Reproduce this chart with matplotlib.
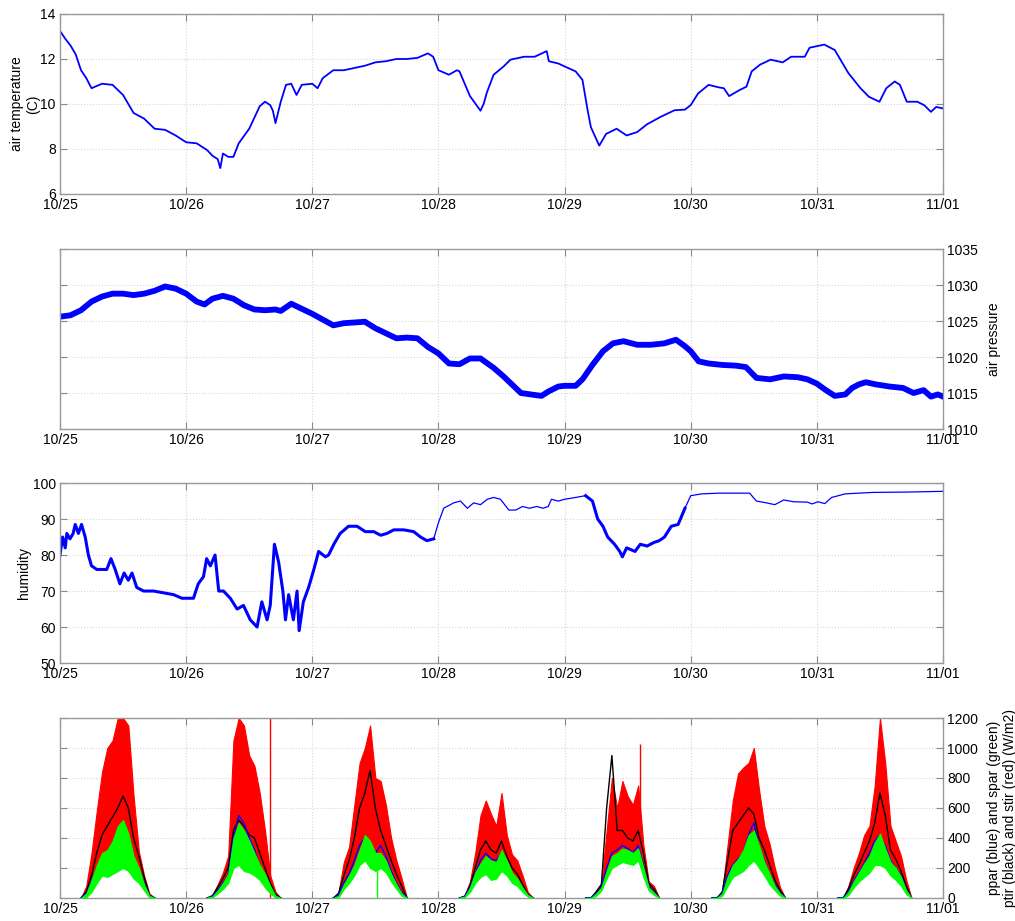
import numpy as np
import matplotlib
matplotlib.use("Agg")
import matplotlib.pyplot as plt

plt.rcParams["font.family"] = ["Liberation Sans", "DejaVu Sans"]

# ── Data (hours since 10/25 00:00) ───────────────────────────────────────────
DATE_LABELS = ["10/25", "10/26", "10/27", "10/28", "10/29", "10/30", "10/31", "11/01"]

TEMP_H = [0, 1, 2, 3, 4, 5, 6, 7, 8, 10, 12, 13, 14, 16, 18, 20, 22, 24, 26, 28, 29, 30,
          30.5, 31, 32, 33, 34, 36, 38, 39, 40, 40.5, 41, 42, 43, 44, 45, 46, 48, 49, 50,
          52, 54, 56, 58, 60, 62, 64, 66, 68, 70, 71, 72, 74, 75.5, 76, 78, 80, 80.6, 81.2,
          82.5, 84.4, 85.7, 88.3, 90.3, 92.6, 93, 94.8, 96, 98.1, 99.4, 100.4, 101, 102.3,
          102.6, 103.9, 105.9, 107.8, 109.8, 111.7, 114.3, 116.9, 118.9, 120, 121.4, 123.4,
          125.3, 126.3, 127.3, 129.3, 130.6, 131.6, 133.2, 135.2, 137.5, 139.1, 141.7,
          142.6, 144, 145.4, 147.4, 150, 152.3, 153.9, 155.9, 157.2, 158.8, 159.8, 161.1,
          163.1, 164.4, 165.7, 166.7, 168]
TEMP_C = [13.25, 12.9, 12.6, 12.2, 11.5, 11.15, 10.7, 10.8, 10.9, 10.85, 10.4, 10.0, 9.6,
          9.35, 8.9, 8.85, 8.6, 8.3, 8.25, 7.95, 7.7, 7.55, 7.15, 7.8, 7.65, 7.65, 8.25, 8.9,
          9.9, 10.1, 9.95, 9.7, 9.15, 10.1, 10.85, 10.9, 10.4, 10.85, 10.9, 10.7, 11.15,
          11.5, 11.5, 11.6, 11.7, 11.85, 11.9, 12.0, 12.0, 12.05, 12.25, 12.1, 11.5, 11.3,
          11.5, 11.45, 10.35, 9.7, 10.0, 10.5, 11.3, 11.67, 11.97, 12.1, 12.1, 12.35, 11.9,
          11.8, 11.67, 11.45, 11.07, 9.7, 8.97, 8.3, 8.15, 8.67, 8.9, 8.6, 8.75, 9.1, 9.43,
          9.72, 9.75, 9.95, 10.47, 10.85, 10.74, 10.7, 10.35, 10.62, 10.77, 11.45, 11.75,
          11.97, 11.85, 12.1, 12.1, 12.5, 12.57, 12.64, 12.4, 11.37, 10.7, 10.32, 10.1,
          10.7, 11.0, 10.85, 10.1, 10.1, 9.95, 9.65, 9.87, 9.8]

PRES_H = [0, 2, 4, 6, 8, 10, 12, 14, 16, 18, 20, 22, 24, 26, 27.5, 29, 31, 33, 35, 37, 39,
          41, 42, 44, 46, 48, 50, 52, 54, 56, 58, 60, 62, 64, 66, 68, 70, 72, 74, 76, 78,
          80, 82.5, 84.4, 86.4, 87.7, 89.6, 91.6, 92.9, 94.8, 96, 98.1, 99.4, 101.3, 103.3,
          105.2, 107.2, 109.8, 112.4, 115, 117.2, 118.9, 120, 121.5, 123.4, 126, 128.6,
          130.5, 132.5, 135.1, 137.7, 140.3, 142.2, 144, 145.5, 147.4, 149.4, 150.7, 152,
          153.3, 155.2, 157.8, 160.4, 162.4, 164.3, 165.7, 167, 168]
PRES_HPA = [1025.6, 1025.8, 1026.5, 1027.7, 1028.4, 1028.8, 1028.8, 1028.6, 1028.8, 1029.2,
            1029.8, 1029.5, 1028.8, 1027.7, 1027.3, 1028.1, 1028.5, 1028.1, 1027.2, 1026.6,
            1026.5, 1026.6, 1026.4, 1027.4, 1026.7, 1026.0, 1025.2, 1024.4, 1024.7, 1024.8,
            1024.9, 1024.0, 1023.3, 1022.6, 1022.7, 1022.6, 1021.4, 1020.5, 1019.1, 1019.0,
            1019.8, 1019.8, 1018.5, 1017.3, 1015.9, 1015.0, 1014.8, 1014.6, 1015.2, 1015.9,
            1016.0, 1016.0, 1016.9, 1018.9, 1020.8, 1021.9, 1022.2, 1021.7, 1021.7, 1021.9,
            1022.4, 1021.5, 1020.8, 1019.4, 1019.1, 1018.9, 1018.8, 1018.6, 1017.1, 1016.9,
            1017.3, 1017.2, 1016.9, 1016.3, 1015.5, 1014.6, 1014.8, 1015.7, 1016.2, 1016.5,
            1016.2, 1015.9, 1015.7, 1015.0, 1015.4, 1014.5, 1014.8, 1014.5]

HUM_H = [0, 0.5, 1, 1.3, 1.9, 2.5, 2.9, 3.5, 4.1, 4.8,
         5.4, 6.0, 7.0, 7.9, 8.9, 9.7, 10.5, 11.4, 12.2, 13,
         13.7, 14.6, 15.9, 17.8, 19.7, 21.6, 23.2, 24.1, 25.4, 26.3,
         27.3, 27.9, 28.6, 29.5, 30.2, 31.1, 32.4, 33.7, 34.9, 36.2,
         37.5, 38.4, 39.4, 40, 40.8, 41.6, 42.4, 42.9, 43.5, 44.4,
         45.1, 45.5, 46.3, 47.3, 48.3, 49.2, 50.5, 51.1, 52.1, 53.3,
         54.9, 56.5, 58.1, 59.7, 61, 62.2, 63.5, 65.4, 67.3, 68.6,
         69.8, 71.1, 72, 73, 74.9, 76.2, 77.5, 78.7, 80, 81.3,
         82.5, 83.8, 85.4, 86.7, 88, 89.3, 90.7, 91.9, 92.9, 93.5,
         94.8, 96, 98.1, 100, 101.3, 102.3, 103.3, 104.2, 105.5, 106.5,
         107, 107.8, 109.4, 110.4, 111.7, 113, 114, 115, 116.3, 117.6,
         118.9, 120, 122.1, 125.4, 131.2, 132.5, 134.4, 136, 137.7, 139.6,
         142.2, 143.1, 144.2, 145.5, 146.8, 149.4, 154.6, 161.1, 168]
HUM_PCT = [80, 85, 82, 86, 84.5, 86, 88.5, 86, 88.5, 85,
           80, 77, 76, 76, 76, 79, 76, 72, 75, 73,
           75, 71, 70, 70, 69.5, 69, 68, 68, 68, 72,
           74, 79, 77, 80, 70, 70, 68, 65, 66, 62,
           60, 67, 62, 66, 83, 78, 70, 62, 69, 62,
           70, 59, 67, 71, 76, 81, 79.5, 80, 83, 86,
           88, 88, 86.5, 86.5, 85.5, 86, 87, 87, 86.5, 85,
           84, 84.5, 89, 93, 94.5, 95, 93, 94.5, 94, 95.5,
           96, 95.5, 92.5, 92.5, 93.5, 93, 93.5, 93, 93.5, 95.5,
           95, 95.5, 96, 96.5, 95, 90, 88, 85, 83, 81,
           79.5, 82, 81, 83, 82.5, 83.5, 84, 85, 88, 88.5,
           93, 96.5, 97, 97.2, 97.2, 95, 94.5, 94, 95.3, 94.8,
           94.7, 94.2, 94.8, 94.3, 96, 97, 97.4, 97.5, 97.7]

# radiation: hourly envelopes per day, hours 4..18
RAD_HOURS = list(range(4, 19))
STIR_HI = [
    [0, 80, 300, 580, 840, 1000, 1050, 1200, 1200, 1150, 680, 310, 150, 30, 0],
    [0, 20, 90, 170, 280, 1050, 1200, 1150, 950, 880, 700, 450, 150, 40, 0],
    [0, 40, 240, 340, 620, 900, 1000, 1150, 800, 780, 620, 400, 250, 130, 0],
    [0, 20, 110, 300, 550, 650, 560, 480, 700, 420, 290, 250, 150, 40, 0],
    [0, 0, 50, 100, 450, 800, 600, 780, 680, 620, 750, 350, 110, 80, 0],
    [0, 0, 50, 350, 650, 830, 870, 900, 1000, 720, 480, 360, 200, 70, 0],
    [0, 0, 80, 200, 300, 420, 480, 750, 1200, 900, 480, 380, 280, 120, 0],
]
STIR_LO = [
    [0, 15, 70, 150, 220, 230, 260, 320, 350, 300, 200, 150, 70, 10, 0],
    [0, 8, 40, 80, 130, 300, 350, 300, 270, 220, 170, 110, 55, 10, 0],
    [0, 10, 75, 125, 185, 270, 330, 290, 240, 250, 210, 135, 75, 22, 0],
    [0, 8, 55, 135, 185, 220, 185, 185, 250, 200, 135, 105, 55, 15, 0],
    [0, 0, 22, 60, 155, 240, 260, 285, 275, 260, 290, 170, 60, 28, 0],
    [0, 0, 22, 110, 180, 210, 250, 320, 350, 275, 195, 125, 65, 22, 0],
    [0, 0, 30, 90, 140, 185, 225, 295, 325, 265, 195, 160, 110, 38, 0],
]
PTIR = [
    [0, 40, 150, 300, 420, 480, 540, 600, 680, 600, 400, 280, 140, 20, 0],
    [0, 15, 70, 130, 200, 450, 520, 480, 420, 400, 300, 200, 100, 25, 0],
    [0, 30, 150, 250, 400, 600, 700, 850, 600, 450, 350, 250, 160, 80, 0],
    [0, 10, 80, 200, 320, 380, 320, 300, 380, 280, 200, 160, 90, 25, 0],
    [0, 0, 40, 90, 600, 950, 450, 450, 400, 380, 450, 300, 100, 60, 0],
    [0, 0, 40, 250, 450, 500, 550, 600, 560, 400, 320, 220, 120, 50, 0],
    [0, 0, 60, 150, 220, 300, 380, 500, 700, 550, 320, 260, 180, 80, 0],
]
PPAR = [
    [0, 30, 110, 200, 260, 280, 330, 380, 500, 380, 250, 200, 100, 15, 0],
    [0, 10, 50, 100, 150, 400, 550, 500, 400, 320, 220, 150, 70, 15, 0],
    [0, 20, 100, 160, 250, 350, 400, 350, 300, 350, 280, 180, 100, 40, 0],
    [0, 10, 70, 160, 250, 300, 260, 250, 300, 230, 160, 120, 70, 20, 0],
    [0, 0, 30, 70, 200, 300, 320, 350, 330, 300, 350, 220, 80, 40, 0],
    [0, 0, 30, 150, 220, 260, 300, 420, 500, 350, 250, 160, 90, 35, 0],
    [0, 0, 40, 110, 170, 230, 300, 380, 420, 350, 250, 200, 150, 60, 0],
]
SPAR_HI = [
    [0, 30, 120, 220, 300, 320, 380, 480, 520, 430, 280, 200, 90, 15, 0],
    [0, 10, 50, 100, 160, 400, 500, 450, 380, 300, 220, 160, 80, 15, 0],
    [0, 15, 90, 150, 220, 320, 420, 380, 300, 300, 250, 160, 90, 30, 0],
    [0, 10, 70, 170, 230, 280, 250, 240, 320, 250, 170, 130, 70, 20, 0],
    [0, 0, 30, 70, 180, 280, 300, 330, 320, 300, 330, 200, 70, 35, 0],
    [0, 0, 30, 140, 220, 260, 320, 420, 450, 350, 240, 160, 80, 30, 0],
    [0, 0, 40, 110, 170, 230, 280, 370, 430, 330, 240, 200, 140, 50, 0],
]
SPAR_LO = [
    [0, 5, 40, 100, 150, 140, 160, 180, 200, 180, 130, 100, 50, 5, 0],
    [0, 5, 30, 60, 100, 200, 220, 180, 170, 150, 120, 70, 30, 5, 0],
    [0, 5, 60, 100, 150, 220, 250, 200, 180, 200, 170, 110, 60, 15, 0],
    [0, 5, 40, 100, 140, 160, 120, 130, 180, 150, 100, 80, 40, 10, 0],
    [0, 0, 15, 50, 130, 200, 220, 240, 230, 220, 250, 140, 50, 20, 0],
    [0, 0, 15, 80, 140, 160, 180, 220, 250, 200, 150, 90, 50, 15, 0],
    [0, 0, 20, 70, 110, 140, 170, 220, 220, 200, 150, 120, 80, 25, 0],
]
# isolated single-sample spikes (hours since 10/25, low, high)
SPIKE_H = [39.9, 110.4]
SPIKE_LO = [0, 420]
SPIKE_HI = [1200, 1030]
GREEN_SPIKE_H = [60.3]
GREEN_SPIKE_HI = [230]

GRID_KW = dict(color="#d6d6d6", linestyle=":", linewidth=0.8)


def style_axis(ax):
    ax.set_xlim(0, 7)
    ax.set_xticks(range(8))
    ax.set_xticklabels(DATE_LABELS)
    ax.grid(True, **GRID_KW)
    ax.tick_params(axis="both", direction="in", length=5, color="#888888",
                   top=True, right=True, labelsize=10, pad=3)
    for s in ax.spines.values():
        s.set_color("#999999")
        s.set_linewidth(1.0)


fig = plt.figure(figsize=(10.15, 9.21), dpi=100)
L, W, H = 0.0591, 0.870, 0.1954
ax1 = fig.add_axes([L, 0.7894, W, H])
ax2 = fig.add_axes([L, 0.5342, W, H])
ax3 = fig.add_axes([L, 0.2801, W, H])
ax4 = fig.add_axes([L, 0.0250, W, H])

days = lambda h: np.asarray(h, dtype=float) / 24.0

# ── air temperature ──────────────────────────────────────────────────────────
ax1.plot(days(TEMP_H), TEMP_C, color="blue", lw=1.3)
ax1.set_ylim(6, 14)
ax1.set_yticks([6, 8, 10, 12, 14])
ax1.set_ylabel("air temperature\n(C)", fontsize=10, labelpad=0)
style_axis(ax1)

# ── air pressure ─────────────────────────────────────────────────────────────
ax2.plot(days(PRES_H), PRES_HPA, color="blue", lw=4.2)
ax2.set_ylim(1010, 1035)
ax2.set_yticks(range(1010, 1036, 5))
style_axis(ax2)
ax2.tick_params(labelleft=False, labelright=True)
ax2.yaxis.set_label_position("right")
ax2.set_ylabel("air pressure", fontsize=10, labelpad=6)

# ── humidity ─────────────────────────────────────────────────────────────────
hx = days(HUM_H)
hy = np.asarray(HUM_PCT, dtype=float)
ax3.plot(hx, hy, color="blue", lw=0.9)
noisy = (hx <= 71.5 / 24) | ((hx >= 100 / 24) & (hx <= 119 / 24))
seg = np.where(noisy, hy, np.nan)
ax3.plot(hx, seg, color="blue", lw=2.2)
ax3.set_ylim(50, 100)
ax3.set_yticks(range(50, 101, 10))
ax3.set_ylabel("humidity", fontsize=10, labelpad=1)
style_axis(ax3)

# ── radiation ────────────────────────────────────────────────────────────────
for d in range(7):
    x = d + days(RAD_HOURS)
    ax4.fill_between(x, STIR_LO[d], STIR_HI[d], color="red", lw=0.8, zorder=2)
    ax4.plot(x, PTIR[d], color="black", lw=1.0, zorder=3)
    ax4.plot(x, PPAR[d], color="blue", lw=1.0, zorder=3)
    ax4.fill_between(x, SPAR_LO[d], SPAR_HI[d], color="#00ff00", lw=0.8, zorder=4)
ax4.vlines(days(SPIKE_H), SPIKE_LO, SPIKE_HI, color="red", lw=1.0, zorder=2)
ax4.vlines(days(GREEN_SPIKE_H), 0, GREEN_SPIKE_HI, color="#00ff00", lw=1.0, zorder=4)
ax4.set_ylim(0, 1200)
ax4.set_yticks(range(0, 1201, 200))
style_axis(ax4)
ax4.tick_params(labelleft=False, labelright=True)
ax4.yaxis.set_label_position("right")
ax4.set_ylabel("ppar (blue) and spar (green)\nptir (black) and stir (red) (W/m2)",
               fontsize=10, labelpad=6)

fig.savefig("out.png", dpi=100)
